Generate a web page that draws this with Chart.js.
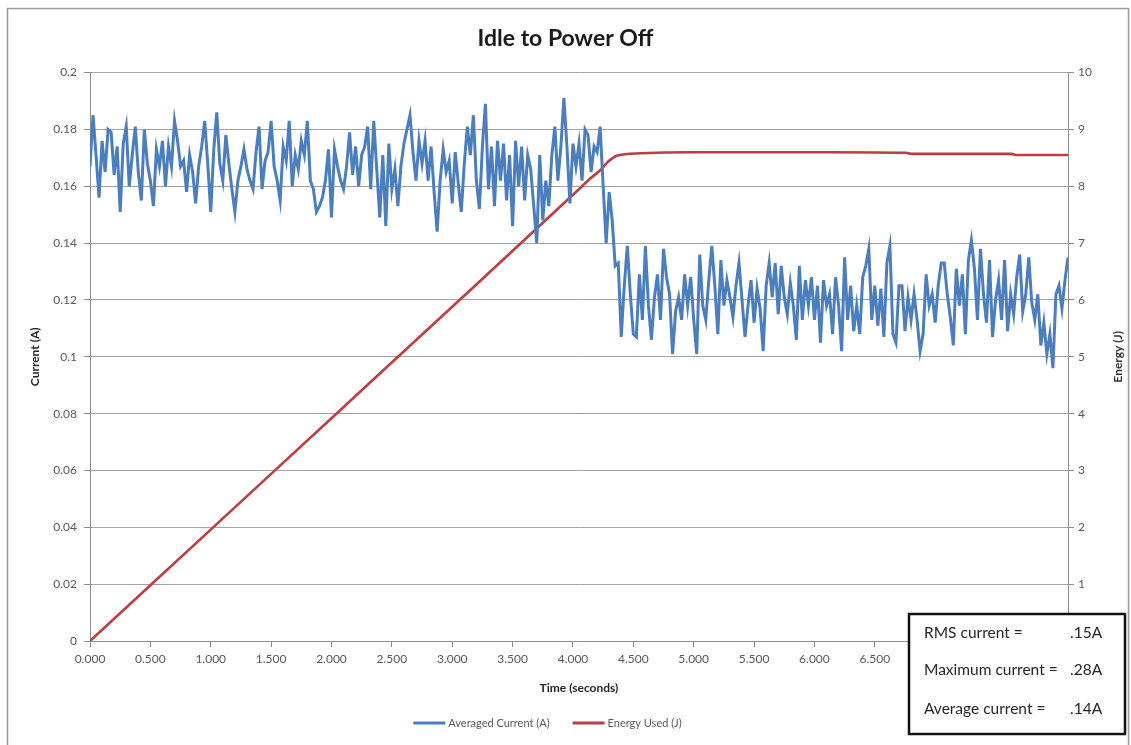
<!DOCTYPE html>
<html>
<head>
<meta charset="utf-8">
<title>Idle to Power Off</title>
<script src="https://cdn.jsdelivr.net/npm/chart.js@4.4.1/dist/chart.umd.min.js"></script>
<style>
  html, body { margin: 0; padding: 0; background: #ffffff; }
  #wrap { width: 1131px; height: 745px; position: relative; }
  canvas { display: block; }
</style>
</head>
<body>
<div id="wrap"><canvas id="chart" width="1131" height="745"></canvas></div>
<script>
// ---- Text ----
const chartTitle = 'Idle to Power Off';
const timeAxisTitle = 'Time (seconds)';
const currentAxisTitle = 'Current (A)';
const energyAxisTitle = 'Energy (J)';
const seriesNames = ['Averaged Current (A)', 'Energy Used (J)'];
const statLabels = ['RMS current =', 'Maximum current =', 'Average current ='];
const statValues = ['.15A', '.28A', '.14A'];

// ---- Axis ticks ----
const currentTicks = [0, 0.02, 0.04, 0.06, 0.08, 0.1, 0.12, 0.14, 0.16, 0.18, 0.2];
const energyTicks = [0, 1, 2, 3, 4, 5, 6, 7, 8, 9, 10];
const timeTicks = [0, 0.5, 1, 1.5, 2, 2.5, 3, 3.5, 4, 4.5, 5, 5.5, 6, 6.5, 7, 7.5, 8];
const timeEnd = 8.1;

// ---- Averaged current, one sample every 25 ms (mA) ----
const sampleStepSec = 0.025;
const currentMilliamps = [
  167,185,171,156,176,165,180,179,164,174,
  151,175,181,160,171,181,165,155,180,168,
  162,153,173,167,176,160,174,167,183,176,
  167,169,158,171,165,154,167,174,183,168,
  151,173,186,168,162,178,168,159,151,162,
  167,173,166,162,159,172,181,159,169,172,
  183,167,162,155,174,169,183,160,171,166,
  176,171,183,162,159,151,153,156,162,173,
  149,173,167,162,
  159,167,179,164,174,160,171,174,181,159,
  183,166,149,171,146,175,159,166,153,167,
  175,180,185,172,162,176,168,176,162,174,
  158,144,162,173,165,169,154,172,161,151,
  168,181,171,185,162,152,174,189,159,174,
  153,176,162,175,155,171,146,176,160,174,
  155,171,166,153,140,171,148,162,153,171,
  181,162,174,191,174,154,175,167,175,162,
  180,178,165,174,
  172,181,160,140,158,148,132,133,107,125,
  139,122,108,107,129,113,139,118,106,121,
  129,113,138,128,122,101,116,121,113,129,
  118,128,113,101,136,118,113,127,139,125,
  108,134,118,127,121,114,125,133,120,107,
  118,127,112,124,117,102,125,133,121,133,
  115,132,121,115,126,118,106,132,113,127,
  118,128,113,125,105,127,118,122,108,128,
  118,
  102,135,113,125,109,118,108,128,132,138,
  113,125,111,124,107,133,139,108,105,125,
  125,109,121,113,122,113,102,108,129,118,
  122,112,125,133,133,122,114,104,131,118,
  129,108,134,141,131,113,138,122,112,134,
  107,120,127,113,134,109,122,115,128,136,
  116,122,135,119,113,122,104,112,101,108,
  96,122,125,117,127,135
];

// ---- Cumulative energy used ----
const energyTimeSec = [0, 1, 2, 3, 4, 4.15, 4.23, 4.29, 4.37, 4.56, 4.98, 6.14, 6.76, 6.80, 7.63, 7.68, 8.1];
const energyJoules  = [0, 1.96, 3.92, 5.88, 7.85, 8.15, 8.29, 8.43, 8.54, 8.58, 8.60, 8.60, 8.59, 8.57, 8.57, 8.55, 8.55];

// ---- Styling ----
const FONT = 'Lato, "Open Sans", "DejaVu Sans", sans-serif';
const BLUE = '#4a7ebf';
const RED = '#be3c42';
const TICK_TEXT = '#595959';
const GRID = '#a3a3a3';
const AXIS = '#8c8c8c';

const currentPoints = currentMilliamps.map((mA, i) => ({ x: i * sampleStepSec, y: mA / 1000 }));
const energyPoints = energyTimeSec.map((t, i) => ({ x: t, y: energyJoules[i] }));

// Frame, right-hand axis title, legend and the statistics box
const overlays = {
  id: 'overlays',
  afterDraw(chart) {
    const { ctx, chartArea } = chart;
    ctx.save();

    // outer chart frame
    ctx.strokeStyle = '#9c9c9c';
    ctx.lineWidth = 1.5;
    ctx.strokeRect(7.5, 8.5, 1121, 760);

    // secondary axis title, reading bottom to top
    ctx.save();
    ctx.translate(1118, (chartArea.top + chartArea.bottom) / 2);
    ctx.rotate(-Math.PI / 2);
    ctx.font = 'bold 12px ' + FONT;
    ctx.fillStyle = '#333333';
    ctx.textAlign = 'center';
    ctx.textBaseline = 'middle';
    ctx.fillText(energyAxisTitle, 0, 0);
    ctx.restore();

    // legend
    const colors = [BLUE, RED];
    ctx.font = '11px ' + FONT;
    const sample = 32, gapText = 3, gapItem = 23;
    const widths = seriesNames.map(s => ctx.measureText(s).width);
    const total = widths.reduce((a, w) => a + sample + gapText + w, 0) + gapItem;
    let lx = 547.5 - total / 2;
    const ly = 723;
    ctx.textBaseline = 'middle';
    ctx.textAlign = 'left';
    seriesNames.forEach((name, k) => {
      ctx.strokeStyle = colors[k];
      ctx.lineWidth = 3;
      ctx.beginPath();
      ctx.moveTo(lx, ly);
      ctx.lineTo(lx + sample, ly);
      ctx.stroke();
      ctx.fillStyle = TICK_TEXT;
      ctx.fillText(name, lx + sample + gapText, ly);
      lx += sample + gapText + widths[k] + gapItem;
    });

    // statistics box
    const bx = 909, by = 614, bw = 216, bh = 120;
    ctx.fillStyle = '#ffffff';
    ctx.fillRect(bx, by, bw, bh);
    ctx.strokeStyle = '#111111';
    ctx.lineWidth = 2.5;
    ctx.strokeRect(bx, by, bw, bh);
    ctx.font = '15.5px ' + FONT;
    ctx.fillStyle = '#262626';
    const rowsY = [633, 670, 709];
    statLabels.forEach((label, k) => {
      ctx.textAlign = 'left';
      ctx.fillText(label, 924, rowsY[k]);
      ctx.fillText(statValues[k], 1070, rowsY[k]);
    });

    ctx.restore();
  }
};

Chart.defaults.font.family = FONT;
Chart.defaults.color = TICK_TEXT;

new Chart(document.getElementById('chart'), {
  type: 'line',
  data: {
    datasets: [
      {
        label: seriesNames[0],
        data: currentPoints,
        yAxisID: 'yCurrent',
        borderColor: BLUE,
        backgroundColor: BLUE,
        borderWidth: 3,
        pointRadius: 0,
        tension: 0
      },
      {
        label: seriesNames[1],
        data: energyPoints,
        yAxisID: 'yEnergy',
        borderColor: RED,
        backgroundColor: RED,
        borderWidth: 2.6,
        pointRadius: 0,
        tension: 0.3,
        cubicInterpolationMode: 'monotone'
      }
    ]
  },
  options: {
    responsive: false,
    animation: false,
    events: [],
    layout: { padding: 0 },
    plugins: {
      legend: { display: false },
      tooltip: { enabled: false },
      title: {
        display: true,
        text: chartTitle,
        color: '#1a1a1a',
        font: { size: 23, weight: 'bold', family: FONT },
        padding: { top: 25, bottom: 20 }
      }
    },
    scales: {
      x: {
        type: 'linear',
        min: 0,
        max: timeEnd,
        afterBuildTicks: s => { s.ticks = timeTicks.map(v => ({ value: v })); },
        afterFit: s => { s.height = 104; },
        ticks: {
          autoSkip: false,
          maxRotation: 0,
          padding: 5,
          color: TICK_TEXT,
          font: { size: 12 },
          callback: v => Number(v).toFixed(3)
        },
        grid: { drawOnChartArea: false, drawTicks: true, tickLength: 6, tickColor: AXIS },
        border: { display: true, color: AXIS, width: 1 },
        title: {
          display: true,
          text: timeAxisTitle,
          color: '#262626',
          font: { size: 12, weight: 'bold' },
          padding: { top: 0, bottom: 50 }
        }
      },
      yCurrent: {
        type: 'linear',
        position: 'left',
        min: 0,
        max: 0.2,
        afterBuildTicks: s => { s.ticks = currentTicks.map(v => ({ value: v })); },
        afterFit: s => { s.width = 90; },
        ticks: {
          padding: 7,
          color: TICK_TEXT,
          font: { size: 12 },
          callback: v => String(Number(Number(v).toFixed(2)))
        },
        grid: { color: GRID, lineWidth: 1, tickLength: 6, tickColor: AXIS },
        border: { display: true, color: AXIS, width: 1 },
        title: {
          display: true,
          text: currentAxisTitle,
          color: '#262626',
          font: { size: 12, weight: 'bold' },
          padding: { top: 28, bottom: 0 }
        }
      },
      yEnergy: {
        type: 'linear',
        position: 'right',
        min: 0,
        max: 10,
        afterBuildTicks: s => { s.ticks = energyTicks.map(v => ({ value: v })); },
        afterFit: s => { s.width = 63; },
        ticks: {
          padding: 4,
          color: TICK_TEXT,
          font: { size: 12 },
          callback: v => String(v)
        },
        grid: { drawOnChartArea: false, tickLength: 6, tickColor: AXIS },
        border: { display: true, color: AXIS, width: 1 }
      }
    }
  },
  plugins: [overlays]
});
</script>
</body>
</html>
